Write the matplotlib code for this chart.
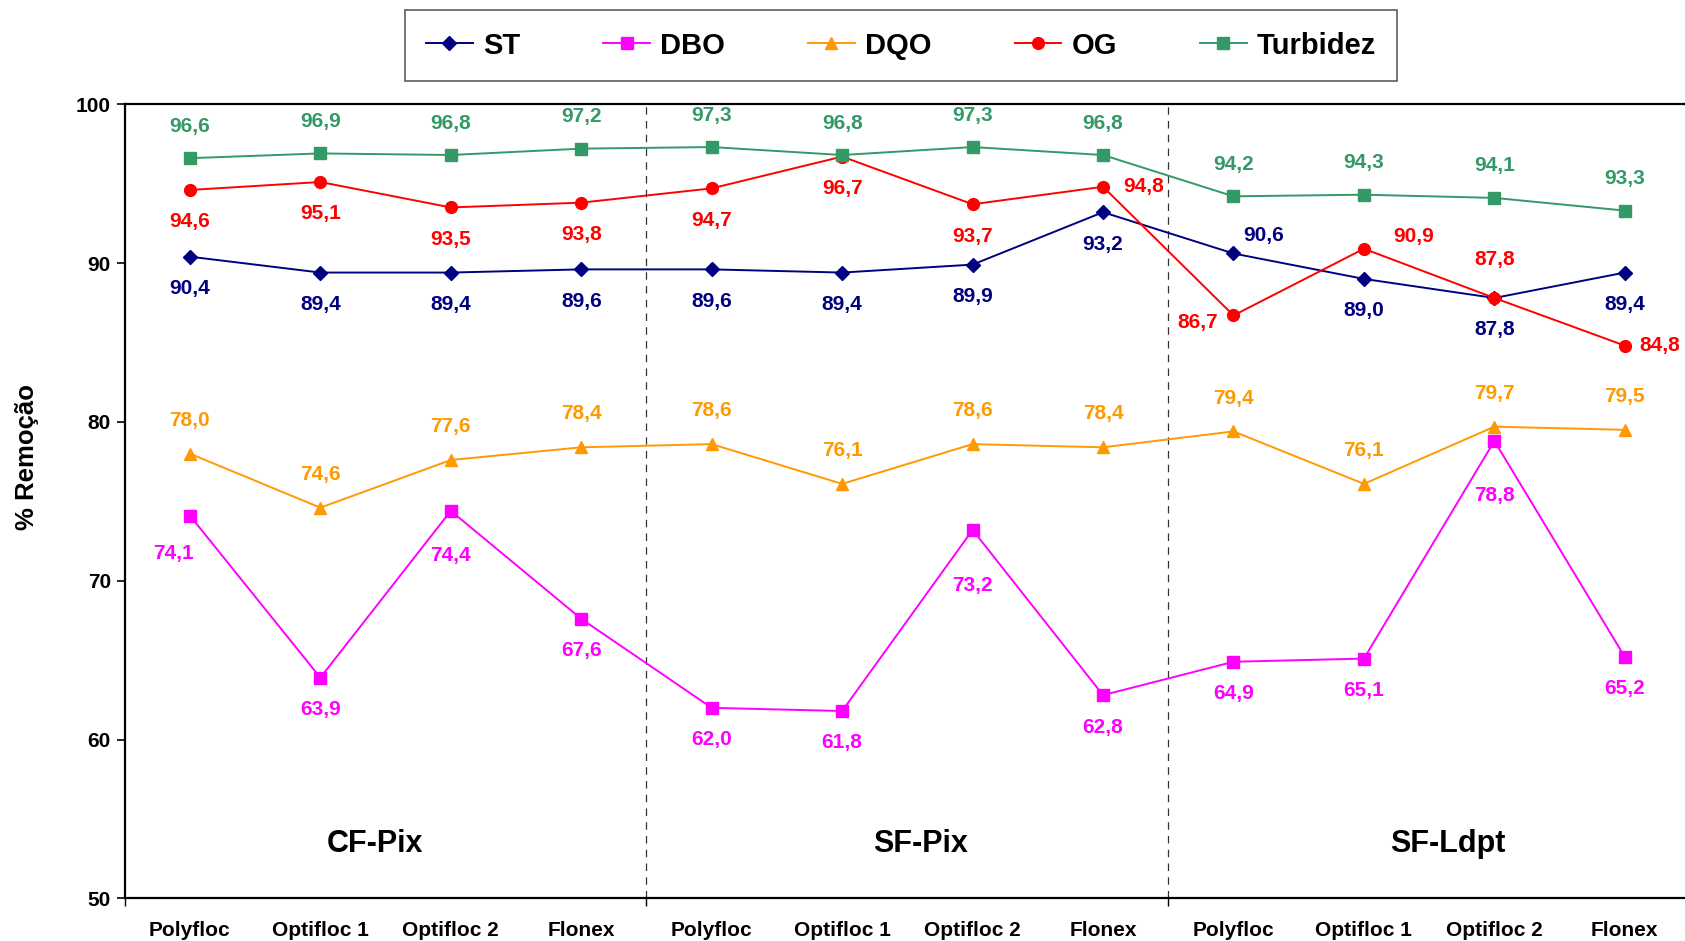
import matplotlib
matplotlib.use('Agg')
import matplotlib.pyplot as plt

plt.rcParams['font.family'] = ['Liberation Sans', 'DejaVu Sans']
plt.rcParams['font.weight'] = 'bold'

# categories (coagulants) in three groups
categories = ['Polyfloc', 'Optifloc 1', 'Optifloc 2', 'Flonex'] * 3
groups = ['CF-Pix', 'SF-Pix', 'SF-Ldpt']

st = [90.4, 89.4, 89.4, 89.6, 89.6, 89.4, 89.9, 93.2, 90.6, 89.0, 87.8, 89.4]
dbo = [74.1, 63.9, 74.4, 67.6, 62.0, 61.8, 73.2, 62.8, 64.9, 65.1, 78.8, 65.2]
dqo = [78.0, 74.6, 77.6, 78.4, 78.6, 76.1, 78.6, 78.4, 79.4, 76.1, 79.7, 79.5]
og = [94.6, 95.1, 93.5, 93.8, 94.7, 96.7, 93.7, 94.8, 86.7, 90.9, 87.8, 84.8]
turb = [96.6, 96.9, 96.8, 97.2, 97.3, 96.8, 97.3, 96.8, 94.2, 94.3, 94.1, 93.3]

series = [
    ('ST', st, '#000080', 'D', 7),
    ('DBO', dbo, '#FF00FF', 's', 8),
    ('DQO', dqo, '#FF9900', '^', 8),
    ('OG', og, '#FF0000', 'o', 8.5),
    ('Turbidez', turb, '#339966', 's', 8),
]

# default label offsets (points) per series, and a few exceptions
default_off = {'ST': (0, -23), 'DBO': (0, -23), 'DQO': (0, 24), 'OG': (0, -23), 'Turbidez': (0, 23)}
special_off = {
    ('DBO', 0): (-12, -27), ('DBO', 2): (0, -32), ('DBO', 6): (0, -40), ('DBO', 10): (0, -39),
    ('OG', 7): (29, 0), ('OG', 8): (-26, -5), ('OG', 9): (36, 9), ('OG', 10): (0, 28), ('OG', 11): (25, 0),
    ('ST', 8): (22, 13),
}
group_x = [1.42, 5.6, 9.64]

fig = plt.figure(figsize=(16.85, 9.41), dpi=100)
ax = fig.add_axes([0.074, 0.0452, 0.929, 0.8441])
x = list(range(len(categories)))

for name, vals, color, mk, ms in series:
    ax.plot(x, vals, color=color, marker=mk, markersize=ms, linewidth=1.4,
            label=name, clip_on=False, zorder=3)
    for i, v in enumerate(vals):
        dx, dy = special_off.get((name, i), default_off[name])
        ax.annotate(f'{v:.1f}'.replace('.', ','), (i, v), xytext=(dx, dy),
                    textcoords='offset points', ha='center', va='center',
                    color=color, fontsize=15, fontweight='bold')

for b in [3.5, 7.5]:
    ax.axvline(b, color='#333333', linestyle=(0, (6, 5)), linewidth=0.9, zorder=1)

for gx, g in zip(group_x, groups):
    ax.text(gx, 53.4, g, ha='center', va='center', fontsize=22, fontweight='bold')

ax.set_xlim(-0.5, 11.5)
ax.set_ylim(50, 100)
ax.set_yticks([50, 60, 70, 80, 90, 100])
ax.set_xticks([-0.5, 3.5, 7.5])
ax.set_xticklabels([])
ax.set_xticks(x, minor=True)
ax.set_xticklabels(categories, minor=True)
ax.tick_params(axis='x', which='minor', length=0, pad=16, labelsize=15)
ax.tick_params(axis='x', which='major', length=6, width=1, direction='out')
ax.tick_params(axis='y', length=6, width=1.2, labelsize=15, pad=4)
for s in ax.spines.values():
    s.set_linewidth(1.6)
ax.set_ylabel('% Remoção', fontsize=18.5, fontweight='bold')
ax.yaxis.set_label_coords(-0.055, 0.556)

leg = fig.legend(loc='center', bbox_to_anchor=((402 + 1400) / 2 / 1685, 1 - 45.5 / 941),
                 ncol=5, fontsize=21, frameon=True, fancybox=False,
                 handlelength=1.6, handletextpad=0.35, columnspacing=2.85,
                 borderpad=0.73, borderaxespad=0)
leg.get_frame().set_edgecolor('#333333')
leg.get_frame().set_linewidth(1.2)

fig.savefig('out.png', dpi=100)
